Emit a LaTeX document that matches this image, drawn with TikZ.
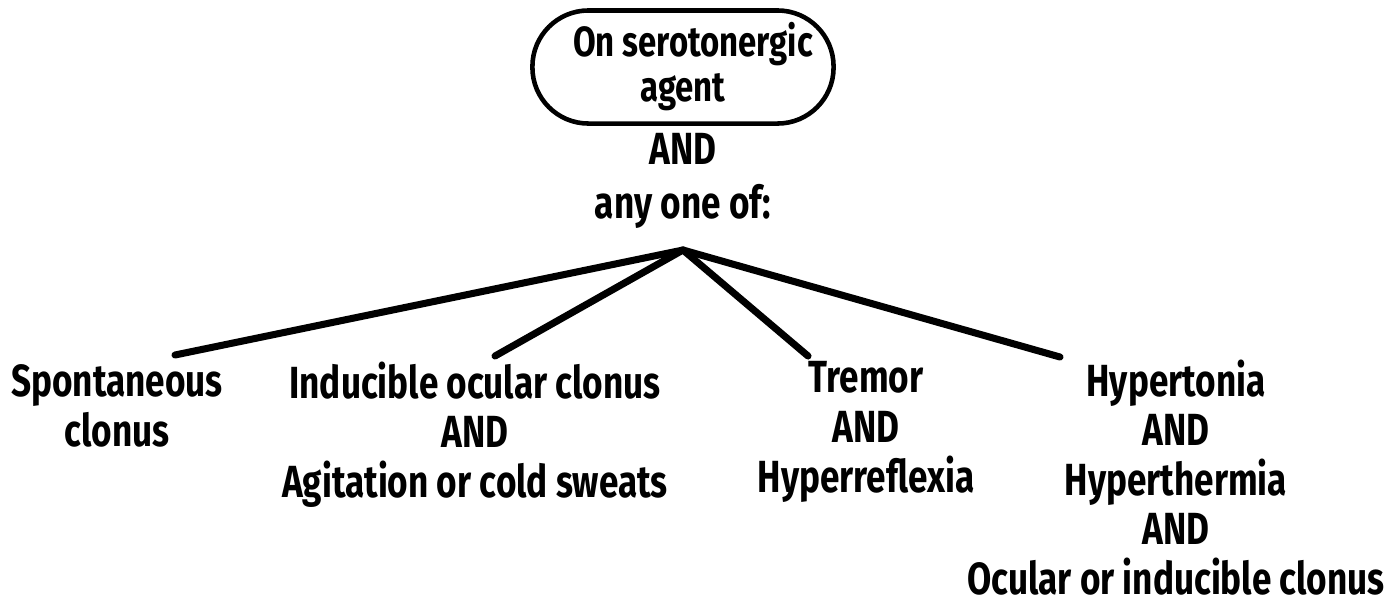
\documentclass[tikz,border=0pt]{standalone}
\usepackage{fontspec}
\setmainfont{Fira Sans}[FakeStretch=0.78]
\begin{document}
\begin{tikzpicture}[x=0.01cm,y=-0.01cm,
  txt/.style={font=\fontsize{12.8}{14.1}\selectfont\bfseries, align=center, inner sep=0pt},
  leaf/.style={txt, anchor=north},
  startbox/.style={draw, line width=1.3pt, rounded corners=0.56cm, minimum width=3.01cm, minimum height=1.13cm, txt, font=\fontsize{12}{12.8}\selectfont\bfseries},
  branch/.style={line width=2pt, line cap=round}]
\useasboundingbox (0,0) rectangle (1400,605);
\node[startbox] (start) at (683,67) {\hspace*{0.2cm}On serotonergic\\agent};
\node[txt] (and) at (683,149) {AND};
\node[txt] (any) at (683,206) {any one of:};
\coordinate (hub) at (683,250);
\node[leaf] (l1) at (117,364) {Spontaneous\\clonus};
\node[leaf] (l2) at (475,361) {Inducible ocular clonus\\AND\\Agitation or cold sweats};
\node[leaf] (l3) at (866,361) {Tremor\\AND\\Hyperreflexia};
\node[leaf] (l4) at (1176,359) {Hypertonia\\AND\\Hyperthermia\\AND\\Ocular or inducible clonus};
\coordinate (e1) at (175,355);
\coordinate (e2) at (495,356);
\coordinate (e3) at (808,356);
\coordinate (e4) at (1060,357);
\draw[branch] (hub) -- (e1);
\draw[branch] (hub) -- (e2);
\draw[branch] (hub) -- (e3);
\draw[branch] (hub) -- (e4);
\end{tikzpicture}
\end{document}
